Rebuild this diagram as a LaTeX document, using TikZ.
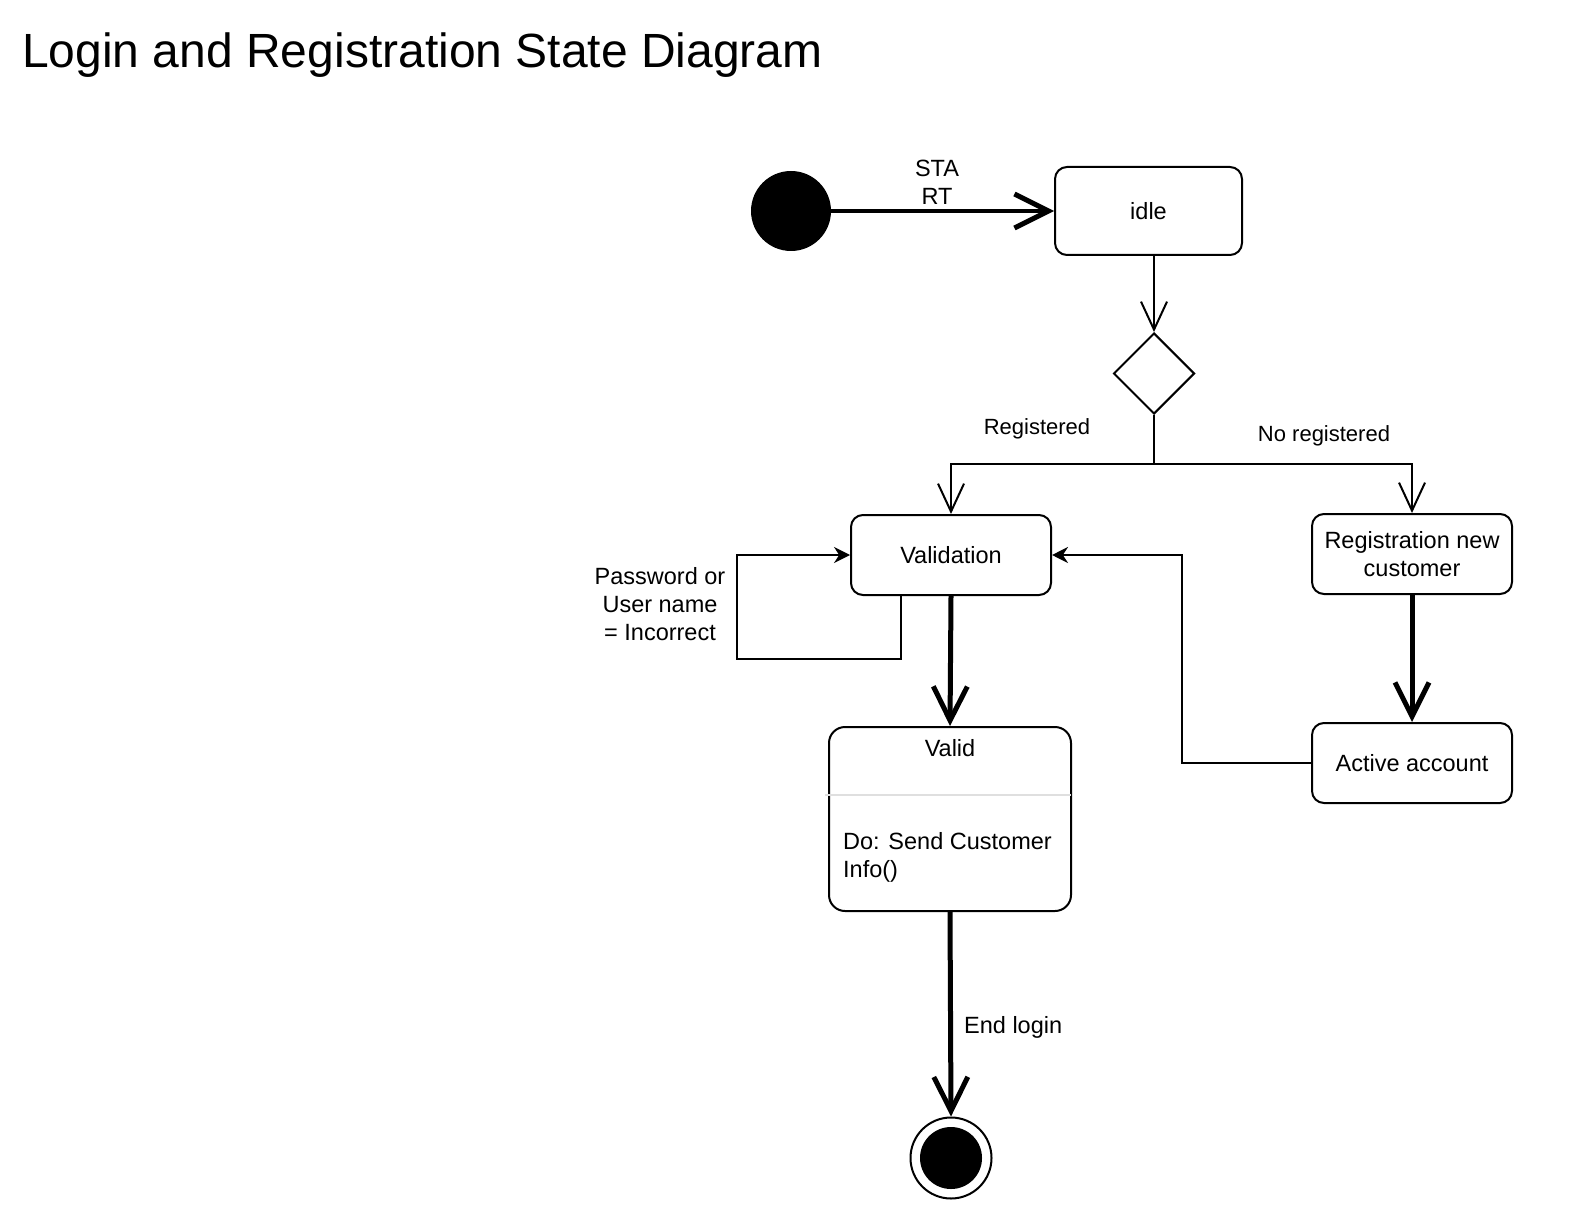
\documentclass[tikz,border=0pt]{standalone}
\usepackage{fontspec}
\setmainfont{Liberation Sans}
\usetikzlibrary{arrows.meta,shapes.geometric}
\newcommand\nodefont{\fontsize{23.5}{28}\selectfont}
\newcommand\labfont{\fontsize{22}{28}\selectfont}
\begin{document}
\begin{tikzpicture}[x=1pt,y=-1pt,
  statebox/.style={draw, line width=2pt, rounded corners=12pt, fill=white, align=center, font=\nodefont, inner sep=0pt},
  thinline/.style={line width=2pt},
  openarr/.style={line width=2pt, -{Straight Barb[length=28pt,width=26pt,line width=2pt]}},
  thickarr/.style={line width=5pt, -{Straight Barb[length=34pt,width=34pt,line width=5pt]}},
  stealtharr/.style={line width=2pt, -{Stealth[length=16pt,width=16pt]}},
  lab/.style={font=\labfont, inner sep=0pt, align=center},
  txt/.style={font=\nodefont, inner sep=0pt, align=center}
]
\useasboundingbox (0,0) rectangle (1586,1230);
\fill[white] (0,0) rectangle (1586,1230);

% title
\node[anchor=base west, font=\fontsize{48}{56}\selectfont, inner sep=0pt] (title) at (22,68) {Login and Registration State Diagram};

% nodes
\node[circle, fill=black, minimum size=80pt, inner sep=0pt] (start) at (791,211) {};
\node[statebox, minimum width=187pt, minimum height=88pt] (idle) at (1148.5,211) {idle};
\node[diamond, draw, line width=2pt, fill=white, minimum width=81pt, minimum height=81pt, inner sep=0pt] (dec) at (1154,373.5) {};
\node[statebox, minimum width=200pt, minimum height=80pt] (validation) at (951,555) {Validation};
\node[statebox, minimum width=200pt, minimum height=80pt] (registration) at (1412,554) {Registration new\\customer};
\node[statebox, minimum width=200pt, minimum height=80pt] (active) at (1412,763) {Active account};
\node[statebox, rounded corners=16pt, minimum width=242pt, minimum height=184pt] (valid) at (950,819) {};
\draw[gray!25, line width=1.5pt] ([yshift=24pt,xshift=-3pt]valid.west) -- ([yshift=24pt,xshift=-1pt]valid.east);
\node[txt] (validtitle) at (950,748) {Valid};
\node[txt, anchor=west, align=left] (validdo) at (843,857) {Do: Send Customer\\Info()};
\node[circle, draw, line width=2pt, fill=white, minimum size=81pt, inner sep=0pt] (endout) at (951,1158) {};
\node[circle, fill=black, minimum size=62pt, inner sep=0pt] (endin) at (951,1158) {};

% coordinates
\coordinate (br) at (1154,464);
\coordinate (la) at (901,659);
\coordinate (lb) at (737,555);
\coordinate (ra) at (1182,555);

% edges
\draw[thickarr, line width=4.5pt] (start) -- (idle.west);
\node[txt] (startlab) at (937,182) {STA\\RT};

\draw[openarr] (idle.south -| dec.north) -- (dec.north);
\draw[thinline] (dec.south) -- (br);
\draw[openarr] (br) -| (validation.north);
\draw[openarr] (br) -| (registration.north);
\node[lab] (reglab) at (1037,429) {Registered};
\node[lab] (noreglab) at (1324,436) {No registered};

\draw[stealtharr] (la |- validation.south) -- (la) -| (lb) -- (validation.west);
\node[txt] (pwlab) at (660,604) {Password or\\User name\\= Incorrect};

\draw[thickarr] (validation.south) -- (valid.north);
\draw[thickarr] (registration.south) -- (active.north);
\draw[stealtharr] (active.west) -| (ra) -- (validation.east);

\draw[thickarr] (valid.south) -- (endout.north);
\node[txt, anchor=west] (endlab) at (964,1027) {End login};
\end{tikzpicture}
\end{document}
